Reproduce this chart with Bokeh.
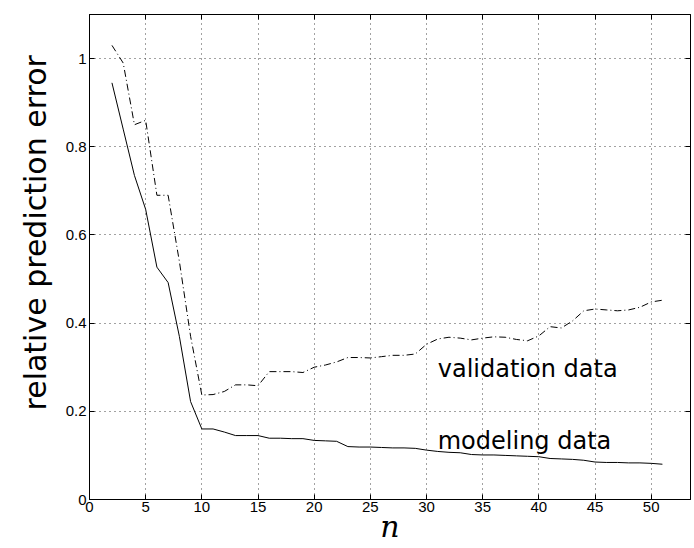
from bokeh.plotting import figure
from bokeh.models import LinearAxis, FixedTicker, Range1d, Label, Title
from bokeh.embed import file_html
from bokeh.resources import INLINE

n = list(range(2, 52))
modeling = [0.945, 0.84, 0.735, 0.658, 0.527, 0.492, 0.37, 0.222, 0.16, 0.16,
            0.153, 0.145, 0.145, 0.145, 0.139, 0.139, 0.138, 0.138, 0.134, 0.133,
            0.132, 0.12, 0.119, 0.119, 0.118, 0.117, 0.117, 0.116, 0.112, 0.109,
            0.107, 0.106, 0.102, 0.101, 0.101, 0.1, 0.099, 0.098, 0.097, 0.093,
            0.092, 0.091, 0.089, 0.085, 0.084, 0.084, 0.083, 0.083, 0.082, 0.08]
validation = [1.03, 0.99, 0.85, 0.86, 0.69, 0.69, 0.54, 0.37, 0.237, 0.238,
              0.245, 0.26, 0.26, 0.258, 0.29, 0.29, 0.29, 0.288, 0.30, 0.305,
              0.312, 0.322, 0.322, 0.321, 0.324, 0.327, 0.327, 0.33, 0.352, 0.364,
              0.368, 0.366, 0.362, 0.366, 0.369, 0.368, 0.363, 0.36, 0.371, 0.392,
              0.389, 0.405, 0.428, 0.432, 0.43, 0.428, 0.43, 0.436, 0.448, 0.452]
x_ticks = [0, 5, 10, 15, 20, 25, 30, 35, 40, 45, 50]
y_ticks = [0.0, 0.2, 0.4, 0.6, 0.8, 1.0]
y_tick_labels = ["0", "0.2", "0.4", "0.6", "0.8", "1"]
series_names = ["modeling data", "validation data"]
x_label = "n"
y_label = "relative prediction error"

p = figure(width=692, height=546, output_backend="svg", toolbar_location=None,
           x_range=Range1d(0, 53.5), y_range=Range1d(0, 1.1),
           min_border_left=89, min_border_right=2, min_border_top=14, min_border_bottom=47)
p.background_fill_color = "white"
p.border_fill_color = "white"
p.outline_line_color = "black"
p.outline_line_width = 1

for ax in p.xaxis + p.yaxis:
    ax.major_tick_in = 5
    ax.major_tick_out = 0
    ax.minor_tick_line_color = None
    ax.axis_line_color = "black"
    ax.major_tick_line_color = "black"
    ax.major_label_text_font = "Liberation Sans"
    ax.major_label_text_font_size = "15px"
    ax.major_label_text_color = "black"

p.xaxis.ticker = FixedTicker(ticks=x_ticks)
p.yaxis.ticker = FixedTicker(ticks=y_ticks)
p.yaxis.major_label_overrides = {v: s for v, s in zip(y_ticks, y_tick_labels)}
p.xaxis.major_label_standoff = 2
p.yaxis.major_label_standoff = 3

p.xaxis.axis_label = x_label
p.xaxis.axis_label_text_font = "DejaVu Serif"
p.xaxis.axis_label_text_font_style = "italic"
p.xaxis.axis_label_text_font_size = "30px"
p.xaxis.axis_label_text_line_height = 0.8
p.xaxis.axis_label_standoff = -6
p.xaxis.axis_label_text_color = "black"

top = LinearAxis(ticker=FixedTicker(ticks=x_ticks), major_tick_in=5, major_tick_out=0,
                 minor_tick_line_color=None, major_label_text_font_size="0px",
                 major_label_text_color=None, major_label_standoff=0)
right = LinearAxis(ticker=FixedTicker(ticks=y_ticks), major_tick_in=5, major_tick_out=0,
                   minor_tick_line_color=None, major_label_text_font_size="0px",
                   major_label_text_color=None, major_label_standoff=0)
p.add_layout(top, "above")
p.add_layout(right, "right")

ytitle = Title(text=y_label, align="left", offset=89, standoff=19,
               text_font="DejaVu Sans", text_font_size="30px", text_font_style="normal",
               text_color="black")
p.add_layout(ytitle, "left")

for g in (p.xgrid, p.ygrid):
    g.grid_line_color = "#444444"
    g.grid_line_dash = "1 4"
    g.grid_line_width = 1
p.xgrid.ticker = FixedTicker(ticks=x_ticks)
p.ygrid.ticker = FixedTicker(ticks=y_ticks)

p.line(n, modeling, line_color="black", line_width=1)
p.line(n, validation, line_color="black", line_width=1, line_dash="7 3 1 3")

p.add_layout(Label(x=31.0, y=0.133, text=series_names[0], text_font="DejaVu Sans",
                   text_font_size="24px", text_baseline="middle", text_color="black"))
p.add_layout(Label(x=31.0, y=0.295, text=series_names[1], text_font="DejaVu Sans",
                   text_font_size="24px", text_baseline="middle", text_color="black"))

open("out.html", "w").write(file_html(p, INLINE))
